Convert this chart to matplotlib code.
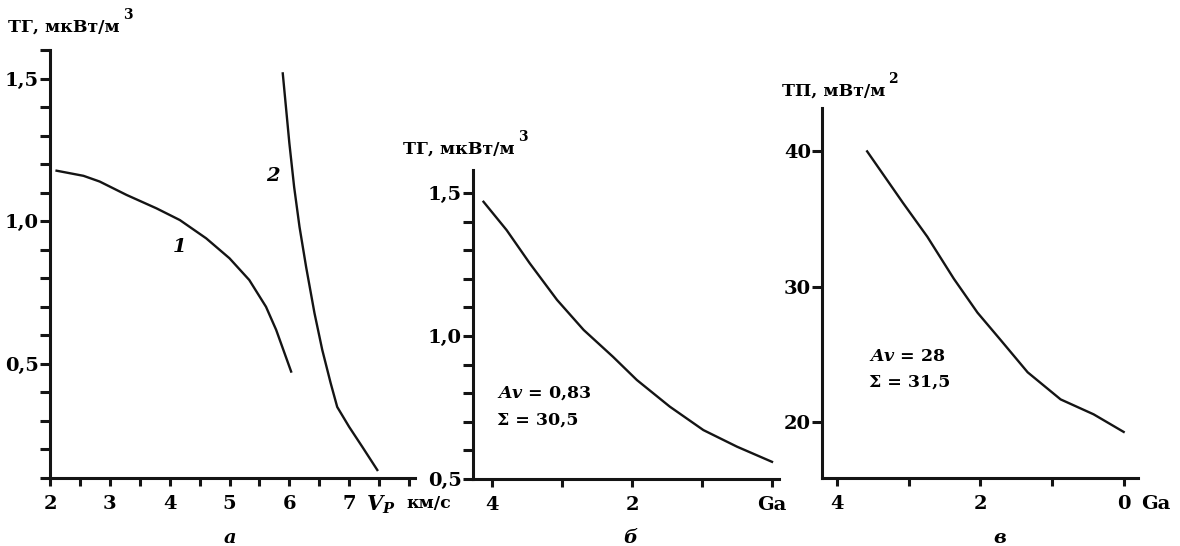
import numpy as np
import matplotlib.pyplot as plt
from matplotlib.ticker import MultipleLocator, FixedLocator

plt.rcParams['font.family'] = ['DejaVu Serif']
plt.rcParams['font.weight'] = 'bold'
plt.rcParams['mathtext.fontset'] = 'custom'
plt.rcParams['mathtext.rm'] = 'DejaVu Serif:bold'
plt.rcParams['mathtext.bf'] = 'DejaVu Serif:bold'
plt.rcParams['mathtext.it'] = 'DejaVu Serif:italic:bold'

# панель а: ТГ от Vp (кривые 1 и 2)
vp_1 = [2.11, 2.56, 2.83, 3.28, 3.78, 4.17, 4.61, 5.0, 5.33, 5.61, 5.78, 6.03]
tg_1 = [1.177, 1.159, 1.139, 1.092, 1.045, 1.004, 0.94, 0.87, 0.794, 0.70, 0.619, 0.473]
vp_2 = [5.89, 6.0, 6.08, 6.17, 6.28, 6.42, 6.55, 6.69, 6.8, 7.0, 7.22, 7.47]
tg_2 = [1.518, 1.274, 1.12, 0.98, 0.84, 0.678, 0.549, 0.433, 0.349, 0.279, 0.209, 0.128]

# панель б: ТГ от возраста, Ga
age_b = [4.12, 3.79, 3.46, 3.07, 2.69, 2.27, 1.93, 1.46, 0.98, 0.50, 0.0]
tg_b = [1.469, 1.37, 1.254, 1.126, 1.021, 0.927, 0.846, 0.753, 0.671, 0.613, 0.56]

# панель в: ТП от возраста, Ga
age_c = [3.58, 3.08, 2.74, 2.37, 2.04, 1.72, 1.34, 0.88, 0.42, 0.0]
tp_c = [40.0, 36.2, 33.7, 30.6, 28.1, 26.1, 23.7, 21.7, 20.6, 19.3]

W, H = 1180, 546
fig = plt.figure(figsize=(W / 100, H / 100), dpi=100)
LC = '#141414'


def add_ax(x0, x1, y0, y1):
    # пиксельные координаты -> доли фигуры
    return fig.add_axes([x0 / W, (H - y1) / H, (x1 - x0) / W, (y1 - y0) / H])


def style(ax):
    for s in ['top', 'right']:
        ax.spines[s].set_visible(False)
    for s in ['left', 'bottom']:
        ax.spines[s].set_linewidth(2.2)
        ax.spines[s].set_color(LC)
    ax.tick_params(which='both', direction='out', width=2.2, color=LC, labelsize=14)
    ax.tick_params(axis='y', which='both', length=7, pad=1)
    ax.tick_params(axis='x', which='both', length=6, pad=6)
    for lab in ax.get_xticklabels() + ax.get_yticklabels():
        lab.set_fontweight('bold')


def ylabel(x, y, text, sup):
    t = fig.text(x / W, 1 - y / H, text, fontsize=12.5, ha='left', va='baseline')
    fig.canvas.draw()
    bb = t.get_window_extent()
    fig.text(bb.x1 / W + 3 / W, 1 - (y - 13) / H, sup, fontsize=10, ha='left', va='baseline')


# --- а ---
ax1 = add_ax(50, 415, 50, 478)
ax1.plot(vp_1, tg_1, color=LC, lw=1.7)
ax1.plot(vp_2, tg_2, color=LC, lw=1.7)
ax1.set_xlim(2, 8.1)
ax1.set_ylim(0.1, 1.6)
ax1.xaxis.set_major_locator(FixedLocator([2, 3, 4, 5, 6, 7]))
ax1.xaxis.set_minor_locator(FixedLocator([2.5, 3.5, 4.5, 5.5, 6.5, 7.5, 8]))
ax1.set_xticklabels(['2', '3', '4', '5', '6', '7'])
ax1.yaxis.set_major_locator(FixedLocator([0.5, 1.0, 1.5]))
ax1.yaxis.set_minor_locator(MultipleLocator(0.1))
ax1.set_yticklabels(['0,5', '1,0', '1,5'])
style(ax1)
ax1.text(4.17, 0.91, '1', fontsize=14, style='italic', ha='center', va='center')
ax1.text(5.72, 1.16, '2', fontsize=14, style='italic', ha='center', va='center')
ax1.annotate(r'$V_P$', xy=(7.53, 0), xycoords=('data', 'axes fraction'),
             xytext=(0, -11), textcoords='offset points', fontsize=15, ha='center', va='top')
ax1.annotate('км/с', xy=(7.95, 0), xycoords=('data', 'axes fraction'),
             xytext=(0, -12), textcoords='offset points', fontsize=12.5, ha='left', va='top')

# --- б ---
ax2 = add_ax(473, 779, 170, 479)
ax2.plot(age_b, tg_b, color=LC, lw=1.7)
ax2.set_xlim(4.27, -0.1)
ax2.set_ylim(0.5, 1.58)
ax2.xaxis.set_major_locator(FixedLocator([4, 3, 2, 1, 0]))
ax2.set_xticklabels(['4', '', '2', '', 'Ga'])
ax2.yaxis.set_major_locator(FixedLocator([0.5, 1.0, 1.5]))
ax2.yaxis.set_minor_locator(MultipleLocator(0.1))
ax2.set_yticklabels(['0,5', '1,0', '1,5'])
style(ax2)
ax2.text(3.93, 0.80, r'$Av$ = 0,83', fontsize=12.5, ha='left', va='center')
ax2.text(3.93, 0.706, 'Σ = 30,5', fontsize=12.5, ha='left', va='center')

# --- в ---
ax3 = add_ax(822, 1138, 108, 478)
ax3.plot(age_c, tp_c, color=LC, lw=1.7)
ax3.set_xlim(4.21, -0.2)
ax3.set_ylim(15.9, 43.2)
ax3.xaxis.set_major_locator(FixedLocator([4, 3, 2, 1, 0]))
ax3.set_xticklabels(['4', '', '2', '', '0'])
ax3.yaxis.set_major_locator(FixedLocator([20, 30, 40]))
style(ax3)
ax3.text(3.55, 24.9, r'$Av$ = 28', fontsize=12.5, ha='left', va='center')
ax3.text(3.55, 23.0, 'Σ = 31,5', fontsize=12.5, ha='left', va='center')
ax3.annotate('Ga', xy=(-0.45, 0), xycoords=('data', 'axes fraction'),
             xytext=(0, -12), textcoords='offset points', fontsize=14, ha='center', va='top',
             annotation_clip=False)

# подписи осей Y
ylabel(8, 32, 'ТГ, мкВт/м', '3')
ylabel(403, 154, 'ТГ, мкВт/м', '3')
ylabel(782, 96, 'ТП, мВт/м', '2')

# подписи панелей
fig.text(230 / W, 1 - 538 / H, 'а', fontsize=14, style='italic', ha='center', va='center')
fig.text(630 / W, 1 - 538 / H, 'б', fontsize=14, style='italic', ha='center', va='center')
fig.text(1000 / W, 1 - 538 / H, 'в', fontsize=14, style='italic', ha='center', va='center')

fig.savefig('out.png', dpi=100)
